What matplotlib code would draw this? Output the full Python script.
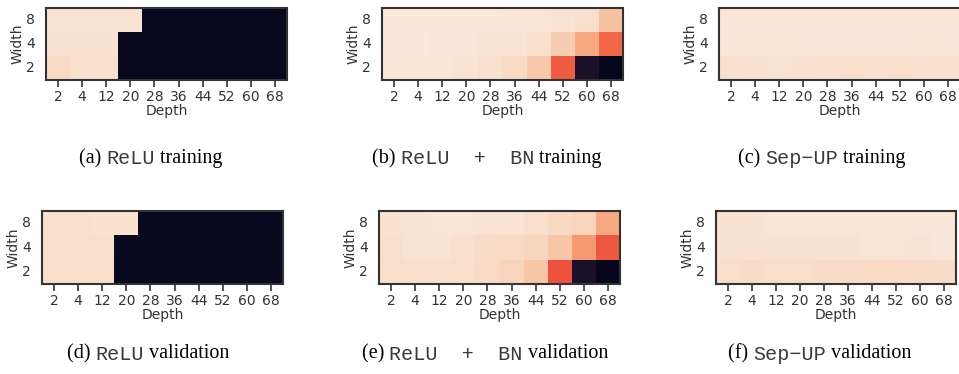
import numpy as np
import pandas as pd
import matplotlib
matplotlib.use("Agg")
import matplotlib.pyplot as plt
import seaborn as sns

# --- data (rows: width 8, 4, 2 from top to bottom) ---
depths = [2, 4, 12, 20, 28, 36, 44, 52, 60, 68]
widths = [8, 4, 2]

relu_train = [
    [0.02, 0.02, 0.02, 0.02, 0.98, 0.98, 0.98, 0.98, 0.98, 0.98],
    [0.025, 0.025, 0.025, 0.98, 0.98, 0.98, 0.98, 0.98, 0.98, 0.98],
    [0.045, 0.03, 0.03, 0.98, 0.98, 0.98, 0.98, 0.98, 0.98, 0.98],
]
relu_bn_train = [
    [0.01, 0.01, 0.01, 0.01, 0.01, 0.012, 0.015, 0.02, 0.03, 0.11],
    [0.01, 0.01, 0.012, 0.015, 0.02, 0.022, 0.03, 0.08, 0.17, 0.32],
    [0.015, 0.012, 0.012, 0.02, 0.03, 0.045, 0.09, 0.34, 0.93, 0.99],
]
sepup_train = [
    [0.012, 0.012, 0.012, 0.012, 0.012, 0.012, 0.012, 0.012, 0.015, 0.015],
    [0.015, 0.018, 0.018, 0.015, 0.015, 0.015, 0.015, 0.015, 0.018, 0.015],
    [0.03, 0.025, 0.02, 0.025, 0.03, 0.035, 0.03, 0.032, 0.03, 0.03],
]
relu_val = [
    [0.03, 0.03, 0.025, 0.025, 0.98, 0.98, 0.98, 0.98, 0.98, 0.98],
    [0.03, 0.03, 0.03, 0.98, 0.98, 0.98, 0.98, 0.98, 0.98, 0.98],
    [0.035, 0.035, 0.035, 0.98, 0.98, 0.98, 0.98, 0.98, 0.98, 0.98],
]
relu_bn_val = [
    [0.025, 0.02, 0.018, 0.018, 0.02, 0.02, 0.035, 0.05, 0.06, 0.17],
    [0.03, 0.022, 0.022, 0.03, 0.04, 0.045, 0.055, 0.10, 0.21, 0.35],
    [0.035, 0.035, 0.03, 0.035, 0.045, 0.06, 0.10, 0.36, 0.93, 0.99],
]
sepup_val = [
    [0.025, 0.025, 0.018, 0.018, 0.018, 0.018, 0.018, 0.018, 0.015, 0.015],
    [0.025, 0.025, 0.025, 0.025, 0.025, 0.025, 0.018, 0.018, 0.022, 0.015],
    [0.035, 0.04, 0.035, 0.035, 0.04, 0.04, 0.045, 0.045, 0.04, 0.04],
]

captions = [
    [("(a) ", "serif"), ("ReLU", "mono"), (" training", "serif")],
    [("(b) ", "serif"), ("ReLU  +  BN", "mono"), (" training", "serif")],
    [("(c) ", "serif"), ("Sep\u2212UP", "mono"), (" training", "serif")],
    [("(d) ", "serif"), ("ReLU", "mono"), (" validation", "serif")],
    [("(e) ", "serif"), ("ReLU  +  BN", "mono"), (" validation", "serif")],
    [("(f) ", "serif"), ("Sep\u2212UP", "mono"), (" validation", "serif")],
]

sns.set_style("ticks")
plt.rcParams['font.family'] = ['DejaVu Sans']
fam = {"serif": "Liberation Serif", "mono": "Liberation Mono"}
col = {"serif": "black", "mono": "#3a3a3a"}

W, H = 959, 374
fig = plt.figure(figsize=(W / 100, H / 100), dpi=100)
cmap = sns.color_palette("rocket_r", as_cmap=True)
dark = "#333333"

# pixel boxes: left, top, right, bottom ; caption centre x, y
layout = [
    ((46, 8, 287, 80), (151, 159)),
    ((382, 8, 623, 80), (487, 159)),
    ((719, 8, 960, 80), (822, 159)),
    ((42, 211, 283, 284), (148, 354)),
    ((379, 211, 620, 284), (485, 354)),
    ((716, 211, 956, 284), (820, 354)),
]
data = [relu_train, relu_bn_train, sepup_train, relu_val, relu_bn_val, sepup_val]

for values, ((l, t, r, b), _) in zip(data, layout):
    ax = fig.add_axes([l / W, 1 - b / H, (r - l) / W, (b - t) / H])
    df = pd.DataFrame(values, index=widths, columns=depths)
    sns.heatmap(df, ax=ax, cmap=cmap, vmin=0, vmax=1, cbar=False)
    ax.set_xticklabels(depths, rotation=0)
    ax.set_yticklabels(widths, rotation=0)
    ax.tick_params(axis="x", length=5, width=1.2, color=dark, labelsize=10,
                   pad=2, labelcolor=dark)
    ax.tick_params(axis="y", length=0, labelsize=10, pad=8, labelcolor=dark)
    ax.set_xlabel("Depth", fontsize=10, color=dark, labelpad=0)
    ax.set_ylabel("Width", fontsize=10, color=dark, labelpad=1)
    for sp in ax.spines.values():
        sp.set_visible(True)
        sp.set_color(dark)
        sp.set_linewidth(1.5)

# captions built from serif / monospace pieces
renderer = fig.canvas.get_renderer()
for parts, (_, (xc, yc)) in zip(captions, layout):
    texts = [fig.text(0, 1 - yc / H, s, family=fam[f], fontsize=14.5,
                      va="center", ha="left", color=col[f]) for s, f in parts]
    ws = [tx.get_window_extent(renderer).width for tx in texts]
    x = xc - sum(ws) / 2
    for tx, w in zip(texts, ws):
        tx.set_x(x / W)
        x += w

fig.savefig("out.png", dpi=100)
